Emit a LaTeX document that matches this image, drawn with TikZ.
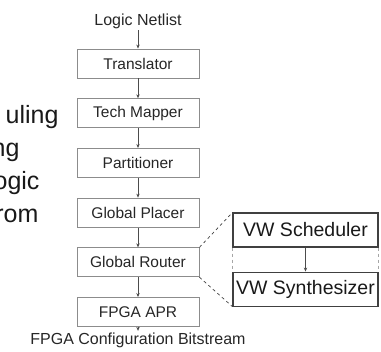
\documentclass[tikz,border=0pt]{standalone}
\usepackage{fontspec}
\setmainfont{Liberation Sans}
\usetikzlibrary{positioning,arrows.meta}

\begin{document}
\begin{tikzpicture}[x=1pt,y=-1pt,
  >={Stealth[length=4pt,width=3.4pt]},
  stage/.style={draw=black!45, line width=0.9pt, minimum width=122pt,
    minimum height=29pt, inner sep=0pt, text=black!85,
    font=\fontsize{15.5}{18}\selectfont},
  vwbox/.style={draw=black!75, line width=1.1pt, minimum width=145pt,
    minimum height=34pt, inner sep=0pt, text=black!90,
    font=\fontsize{19.5}{22}\selectfont},
  endtext/.style={inner sep=1.5pt, text=black!85, font=\fontsize{16}{18}\selectfont},
  slide/.style={anchor=base east, text=black!90, font=\fontsize{25}{28}\selectfont},
  flow/.style={->, draw=black!70, line width=0.6pt},
  zoomline/.style={dashed, draw=black!75, line width=0.7pt}]
  \useasboundingbox (0,0) rectangle (381,352);

  \node[slide] (sl1) at (62,124) {uling};
  \node[slide] (sl2) at (23,157) {ng};
  \node[slide] (sl3) at (43,190) {ogic};
  \node[slide] (sl4) at (42,223) {rom};

  \node[endtext] (netlist) at (138,21) {Logic Netlist};
  \node[stage] (trans) at (138,63.5) {Translator};
  \node[stage, below=19.8pt of trans] (mapper) {Tech Mapper};
  \node[stage, below=19.8pt of mapper] (part) {Partitioner};
  \node[stage, below=19.8pt of part] (placer) {Global Placer};
  \node[stage, below=19.8pt of placer] (router) {Global Router};
  \node[stage, below=19.8pt of router] (apr) {FPGA APR};
  \node[endtext] (bits) at (138,340) {FPGA Configuration Bitstream};

  \foreach \a/\b in {netlist/trans, trans/mapper, mapper/part,
    part/placer, placer/router, router/apr, apr/bits}
    \draw[flow] (\a) -- (\b);

  \node[vwbox] (sched) at (305.5,230) {VW Scheduler};
  \node[vwbox, below=24pt of sched] (synth) {VW Synthesizer};
  \draw[flow] (sched) -- (synth);
  \draw[dashed, draw=black!35, line width=0.8pt]
    (sched.south west) -- (synth.north west)
    (sched.south east) -- (synth.north east);

  \draw[zoomline] (router.north east) -- (sched.north west);
  \draw[zoomline] (router.south east) -- (synth.south west);
\end{tikzpicture}
\end{document}
